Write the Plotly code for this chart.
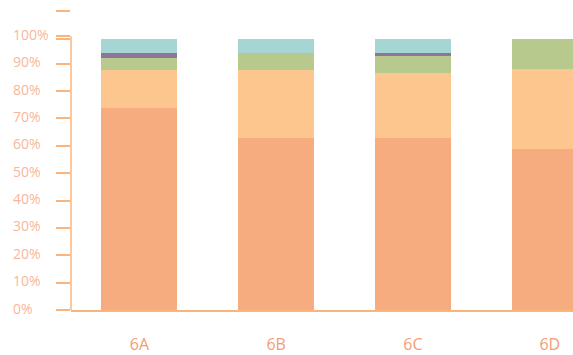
import plotly.graph_objects as go

categories = ["6A", "6B", "6C", "6D"]
s1 = [74.0, 62.8, 62.8, 58.8]
s2 = [13.7, 24.9, 23.8, 29.3]
s3 = [4.4, 6.2, 6.2, 10.8]
s4 = [1.8, 0.0, 1.1, 0.0]
s5 = [5.0, 5.0, 5.0, 0.0]
tick_vals = [0, 10, 20, 30, 40, 50, 60, 70, 80, 90, 100]
tick_labels = ["0%", "10%", "20%", "30%", "40%", "50%", "60%", "70%", "80%", "90%", "100%"]

colors = ["#F7AC7F", "#FCC68E", "#B7C98D", "#8E7599", "#A6D6D3"]
axis_color = "#FBB47A"

fig = go.Figure()
for vals, c in zip([s1, s2, s3, s4, s5], colors):
    fig.add_trace(go.Bar(x=categories, y=vals, marker=dict(color=c, line=dict(width=0)),
                         width=0.556, showlegend=False))

W, H = 573, 355
ml, mr, mt, mb = 71, 0, 9, 41
pw = W - ml - mr

annotations = []
for v, t in zip(tick_vals, tick_labels):
    annotations.append(dict(x=-(ml - 11) / pw, xref="paper", y=v, yref="y", text=t,
                            showarrow=False, xanchor="left", yanchor="middle", yshift=2,
                            font=dict(family="Open Sans", size=14, color="#F8B799")))

fig.update_layout(
    barmode="stack",
    bargap=0,
    width=W, height=H,
    margin=dict(l=ml, r=mr, t=mt, b=mb),
    paper_bgcolor="white", plot_bgcolor="white",
    annotations=annotations,
    shapes=[dict(type="line", xref="paper", x0=0, x1=0, yref="y", y0=0, y1=100,
                 line=dict(color=axis_color, width=1.5))],
    xaxis=dict(range=[-0.5, 3.17], showgrid=False, zeroline=False, showline=True,
               linecolor=axis_color, linewidth=1.5, ticks="", ticklabelstandoff=19,
               tickfont=dict(family="Open Sans", size=16, color="#F39C74"), fixedrange=True),
    yaxis=dict(range=[0, 110], showgrid=False, zeroline=False, showline=False,
               tickvals=tick_vals + [99.2, 109.4], ticks="outside", ticklen=14,
               tickwidth=1.5, tickcolor=axis_color, showticklabels=False, fixedrange=True),
)

fig.write_html("out.html")
